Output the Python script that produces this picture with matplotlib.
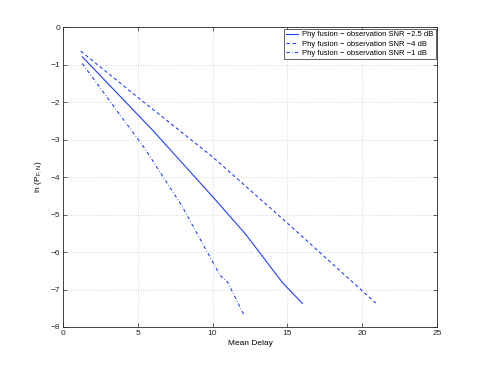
import numpy as np
import matplotlib
matplotlib.use("Agg")
import matplotlib.pyplot as plt

plt.rcParams['font.family'] = ['Liberation Sans', 'DejaVu Sans']
plt.rcParams['mathtext.fontset'] = 'custom'
plt.rcParams['mathtext.rm'] = 'Liberation Sans'

# curves (mean delay, ln P_FN)
delay_25 = [1.3, 6.0, 10.0, 12.2, 14.7, 16.0]
lnp_25 = [-0.79, -2.75, -4.52, -5.52, -6.83, -7.37]

delay_4 = [1.2, 5.0, 10.0, 15.0, 20.9]
lnp_4 = [-0.64, -1.87, -3.46, -5.23, -7.36]

delay_1 = [1.3, 5.5, 8.0, 10.5, 11.0, 12.1]
lnp_1 = [-0.97, -3.25, -4.80, -6.62, -6.80, -7.68]

labels = ["Phy fusion \u2212 observation SNR \u22122.5 dB",
          "Phy fusion \u2212 observation SNR \u22124 dB",
          "Phy fusion \u2212 observation SNR \u22121 dB"]

fig = plt.figure(figsize=(4.83, 3.67), dpi=100)
ax = fig.add_axes([0.130, 0.109, 0.775, 0.817])

ax.plot(delay_25, lnp_25, '-', color='#2040ff', lw=0.8, label=labels[0])
ax.plot(delay_4, lnp_4, '--', color='#2040ff', lw=0.8, dashes=(3, 2.5), label=labels[1])
ax.plot(delay_1, lnp_1, '-.', color='#2040ff', lw=0.8, dashes=(3, 2, 0.6, 2), label=labels[2])

ax.set_xlim(0, 25)
ax.set_ylim(-8, 0)
ax.set_xticks(np.arange(0, 26, 5))
ax.set_yticks(np.arange(-8, 1, 1))
ax.grid(True, linestyle=(0, (1, 2)), color='#c8c8c8', lw=0.6)
ax.tick_params(direction='in', top=True, right=True, labelsize=6, length=3,
               width=0.5, pad=2, colors='#262626')
for s in ax.spines.values():
    s.set_linewidth(0.6)
    s.set_color('#262626')

ax.set_xlabel("Mean Delay", fontsize=6, labelpad=2)
ax.set_ylabel(r"ln (P$_{\mathregular{F,N}}$)", fontsize=6, labelpad=4)

leg = ax.legend(loc='upper right', fontsize=5.5, fancybox=False, framealpha=1,
                edgecolor='#262626', handlelength=1.6, handletextpad=0.5,
                borderpad=0.3, labelspacing=0.25, borderaxespad=0.2)
leg.get_frame().set_linewidth(0.5)

fig.savefig("out.png", dpi=100)
